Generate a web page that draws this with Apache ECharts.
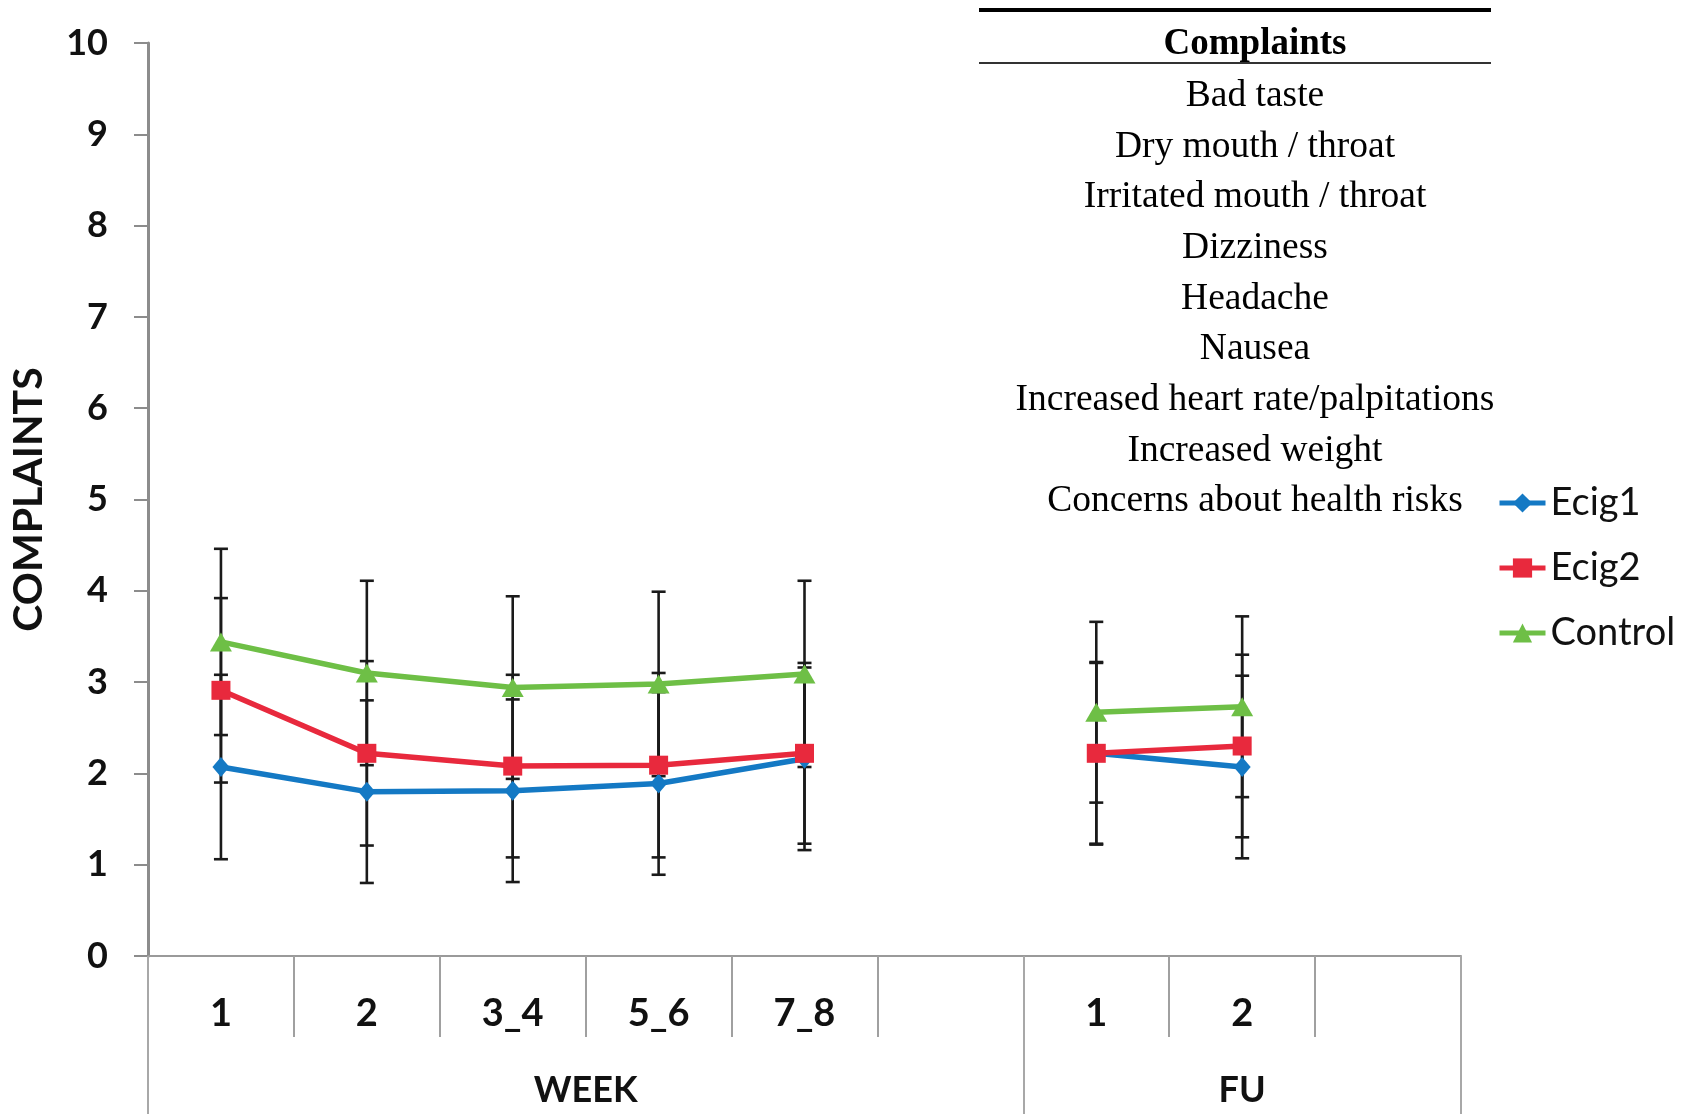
<!DOCTYPE html>
<html>
<head>
<meta charset="utf-8">
<script src="https://cdn.jsdelivr.net/npm/echarts@6/dist/echarts.min.js"></script>
<style>
html,body{margin:0;padding:0;background:#fff;}
#main{width:1692px;height:1114px;}
</style>
</head>
<body>
<div id="main"></div>
<script>
// ---- data ----
const categories = ['1', '2', '3_4', '5_6', '7_8', '', '1', '2', ''];
const groupNames = ['WEEK', 'FU'];
const groupSpans = [6, 3];
const seriesNames = ['Ecig1', 'Ecig2', 'Control'];
const ecig1 = [2.07, 1.80, 1.81, 1.89, 2.16, null, 2.22, 2.07, null];
const ecig2 = [2.91, 2.22, 2.08, 2.09, 2.22, null, 2.22, 2.30, null];
const control = [3.44, 3.10, 2.94, 2.98, 3.09, null, 2.67, 2.73, null];
const ecig1Err = [1.01, 1.00, 1.00, 1.00, 1.00, null, 1.00, 1.00, null];
const ecig2Err = [1.01, 1.01, 1.00, 1.01, 0.99, null, 0.99, 1.00, null];
const controlErr = [1.02, 1.01, 1.00, 1.01, 1.02, null, 0.99, 0.99, null];
const yTicks = [0, 1, 2, 3, 4, 5, 6, 7, 8, 9, 10];
const complaints = ['Bad taste', 'Dry mouth / throat', 'Irritated mouth / throat', 'Dizziness',
  'Headache', 'Nausea', 'Increased heart rate/palpitations', 'Increased weight', 'Concerns about health risks'];
const tableTitle = 'Complaints';

// ---- derived ----
const catKeys = categories.map((c, i) => 'c' + i);
const groupBounds = [0];
groupSpans.forEach(s => groupBounds.push(groupBounds[groupBounds.length - 1] + s));
const groupCenters = groupSpans.map((s, i) => groupBounds[i] + s / 2);

const colors = ['#1479C4', '#E8293D', '#6EBF46'];
const symbols = ['diamond', 'rect', 'triangle'];
const symbolSizes = [[17, 20], 19, [22, 19]];
const values = [ecig1, ecig2, control];
const errs = [ecig1Err, ecig2Err, controlErr];

function errData(v, e) {
  const out = [];
  v.forEach((val, i) => { if (val != null && e[i] != null) out.push([i, val - e[i], val + e[i]]); });
  return out;
}

const series = [];
values.forEach((v, k) => {
  series.push({
    type: 'custom',
    xAxisIndex: 0,
    yAxisIndex: 0,
    z: 1,
    silent: true,
    data: errData(v, errs[k]),
    renderItem: function (params, api) {
      const lo = api.coord([api.value(0), api.value(1)]);
      const hi = api.coord([api.value(0), api.value(2)]);
      const w = 7;
      const st = { stroke: '#1a1a1a', lineWidth: 2.6 };
      return {
        type: 'group',
        children: [
          { type: 'line', shape: { x1: lo[0], y1: lo[1], x2: hi[0], y2: hi[1] }, style: st },
          { type: 'line', shape: { x1: lo[0] - w, y1: lo[1], x2: lo[0] + w, y2: lo[1] }, style: st },
          { type: 'line', shape: { x1: hi[0] - w, y1: hi[1], x2: hi[0] + w, y2: hi[1] }, style: st }
        ]
      };
    }
  });
});
values.forEach((v, k) => {
  series.push({
    name: seriesNames[k],
    type: 'line',
    xAxisIndex: 0,
    yAxisIndex: 0,
    z: 3,
    data: v,
    symbol: symbols[k],
    symbolSize: symbolSizes[k],
    showAllSymbol: true,
    connectNulls: false,
    lineStyle: { color: colors[k], width: 5.5 },
    itemStyle: { color: colors[k] },
    emphasis: { disabled: true },
    animation: false
  });
});

const graphics = [
  { type: 'line', shape: { x1: 979, y1: 10, x2: 1491, y2: 10 }, style: { stroke: '#000', lineWidth: 4 } },
  { type: 'line', shape: { x1: 979, y1: 63, x2: 1491, y2: 63 }, style: { stroke: '#333', lineWidth: 2 } },
  { type: 'text', x: 1255, y: 44, style: { text: tableTitle, fill: '#000', font: 'bold 37px "Liberation Serif"', textAlign: 'center', textVerticalAlign: 'middle' } }
];
complaints.forEach((c, i) => {
  graphics.push({ type: 'text', x: 1255, y: 96 + i * 50.7,
    style: { text: c, fill: '#000', font: '37.5px "Liberation Serif"', textAlign: 'center', textVerticalAlign: 'middle' } });
});

const chart = echarts.init(document.getElementById('main'), null, { renderer: 'canvas' });
chart.setOption({
  backgroundColor: '#fff',
  animation: false,
  grid: { left: 147, right: 231, top: 43, bottom: 158, containLabel: false },
  legend: {
    orient: 'vertical',
    left: 1497,
    top: 484,
    padding: 0,
    itemWidth: 46,
    itemHeight: 24,
    itemGap: 27,
    data: seriesNames,
    lineStyle: { width: 5 },
    textStyle: { fontFamily: 'Lato', fontSize: 38, color: '#111', lineHeight: 37, padding: [0, 0, 0, 0] },
    selectedMode: false
  },
  xAxis: [
    {
      type: 'category',
      position: 'bottom',
      data: catKeys,
      boundaryGap: true,
      axisLine: { show: true, lineStyle: { color: '#9a9a9a', width: 2 } },
      axisTick: { show: true, interval: 0, length: 81, lineStyle: { color: '#a0a0a0', width: 2 } },
      axisLabel: {
        interval: 0, margin: 39,
        formatter: (val, idx) => categories[idx],
        fontFamily: 'Lato', fontWeight: 'bold', fontSize: 38, color: '#111'
      },
      splitLine: { show: false }
    },
    {
      type: 'value',
      position: 'bottom',
      min: 0,
      max: groupBounds[groupBounds.length - 1],
      axisLine: { show: false },
      axisTick: { show: true, customValues: groupBounds, length: 158, lineStyle: { color: '#a8a8a8', width: 2 } },
      axisLabel: {
        customValues: groupCenters, margin: 116,
        formatter: (val) => { const i = groupCenters.indexOf(val); return i >= 0 ? groupNames[i] : ''; },
        fontFamily: 'Lato', fontWeight: 'bold', fontSize: 36, color: '#111'
      },
      splitLine: { show: false }
    }
  ],
  yAxis: {
    type: 'value',
    min: yTicks[0],
    max: yTicks[yTicks.length - 1],
    interval: 1,
    name: 'COMPLAINTS',
    nameLocation: 'middle',
    nameGap: 99,
    nameRotate: 90,
    nameTextStyle: { fontFamily: 'Lato', fontWeight: 'bold', fontSize: 41, color: '#111' },
    axisLine: { show: true, lineStyle: { color: '#8c8c8c', width: 3 } },
    axisTick: { show: true, length: 14, lineStyle: { color: '#8c8c8c', width: 2 } },
    axisLabel: { margin: 40, fontFamily: 'Lato', fontWeight: 'bold', fontSize: 36, color: '#111' },
    splitLine: { show: false }
  },
  graphic: graphics,
  series: series
});
</script>
</body>
</html>
